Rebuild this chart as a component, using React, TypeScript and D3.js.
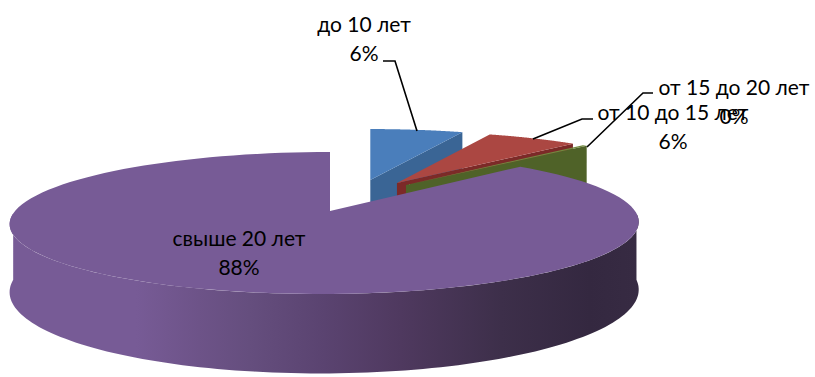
import React, { useEffect, useRef } from "react";
import * as d3 from "d3";

const categories = ["до 10 лет", "от 10 до 15 лет", "от 15 до 20 лет", "свыше 20 лет"];
const values = [6.0, 5.9, 0.3, 87.8];
const percentLabels = ["6%", "6%", "0%", "88%"];
const topColors = ["#4a7ebb", "#ab4742", "#71893f", "#775b96"];
const sideColors = ["#3a6595", "#7c2a28", "#4f6228", "#775b96"];

// offset of each exploded slice, in radii
const explodeX = [0.13, 0.216, 0.245, 0];
const explodeY = [-0.486, -0.436, -0.403, 0];

const labelX = [364, 673, 734, 239];
const labelY = [32, 120, 95, 246];

const leaders: [number, number][][] = [
  [[383, 61], [395, 61], [417, 131]],
  [[533, 139], [582, 119], [593, 119]],
  [[587, 147], [643, 93], [653, 93]],
];

const cx = 330;
const cy = 211;
const radiusX = 310;
const radiusY = 69;
const persp = 0.169;
const depth = 66;
const tilt = 5; // the picture leans a little: front of the disc sits left of the apex

const wallStops = [
  [0, "#775b96"],
  [0.2, "#775b96"],
  [0.3, "#6d5388"],
  [0.38, "#654e7e"],
  [0.5, "#5a4370"],
  [0.62, "#4f395f"],
  [0.78, "#3d2f4a"],
  [0.92, "#342840"],
  [1, "#372b43"],
];

const App = () => {
  const ref = useRef<SVGSVGElement>(null);

  useEffect(() => {
    if (!ref.current) return;
    const svg = d3.select(ref.current);
    svg.selectAll("*").remove();

    const grad = svg.append("defs").append("linearGradient")
      .attr("id", "wall")
      .attr("gradientUnits", "userSpaceOnUse")
      .attr("x1", 10).attr("x2", 640).attr("y1", 0).attr("y2", 0);
    wallStops.forEach((s) => {
      grad.append("stop").attr("offset", s[0]).attr("stop-color", s[1]);
    });

    const pie = d3.pie<number>().sort(null).value((d) => d);
    const arcs = pie(values);
    const line = d3.line().curve(d3.curveLinear);

    // slice i, angle a -> screen, perspective divide squeezes the far half
    const rimPoint = (i: number, a: number, z = 0): [number, number] => {
      const y = explodeY[i] - Math.cos(a);
      const w = 1 - persp * y;
      const lean = i === 3 ? tilt * (1 + y) : 0;
      return [
        cx - lean + radiusX * (explodeX[i] + Math.sin(a) / w),
        cy + (radiusY * y + depth * z) / w,
      ];
    };
    const apexPoint = (i: number, z = 0): [number, number] => {
      const w = 1 - persp * explodeY[i];
      return [cx + radiusX * explodeX[i], cy + (radiusY * explodeY[i] + depth * z) / w];
    };
    const rim = (i: number, a0: number, a1: number, z = 0) =>
      d3.range(0, 121).map((k) => rimPoint(i, a0 + ((a1 - a0) * k) / 120, z));

    // only the part of the outer wall that faces the viewer
    const wallFrom = (92 * Math.PI) / 180;
    const wallTo = (268 * Math.PI) / 180;

    arcs.forEach((d, i) => {
      const g = svg.append("g");

      if (i === 3) {
        const top = rim(i, wallFrom, wallTo);
        const low = rim(i, wallFrom, wallTo, 1).reverse();
        g.append("path")
          .attr("d", line([...top, ...low]) + "Z")
          .attr("fill", "url(#wall)");
      } else {
        g.append("path")
          .attr("d", line([apexPoint(i), rimPoint(i, d.endAngle), rimPoint(i, d.endAngle, 1), apexPoint(i, 1)]) + "Z")
          .attr("fill", sideColors[i]);
      }

      g.append("path")
        .attr("d", line([apexPoint(i), ...rim(i, d.startAngle, d.endAngle)]) + "Z")
        .attr("fill", topColors[i]);
    });

    svg.append("g").selectAll("path").data(leaders).enter()
      .append("path")
      .attr("d", (d) => line(d))
      .attr("fill", "none")
      .attr("stroke", "#000")
      .attr("stroke-width", 1.6);

    const text = svg.append("g")
      .attr("font-family", "Lato, 'Open Sans', sans-serif")
      .attr("font-size", 21)
      .attr("fill", "#000")
      .attr("text-anchor", "middle");
    categories.forEach((c, i) => {
      text.append("text").attr("x", labelX[i]).attr("y", labelY[i]).text(c);
      text.append("text").attr("x", labelX[i]).attr("y", labelY[i] + 29).text(percentLabels[i]);
    });
  }, []);

  return (
    <svg
      ref={ref}
      width={815}
      height={377}
      style={{ position: "absolute", left: 0, top: 0, background: "#fff" }}
    />
  );
};

export default App;
